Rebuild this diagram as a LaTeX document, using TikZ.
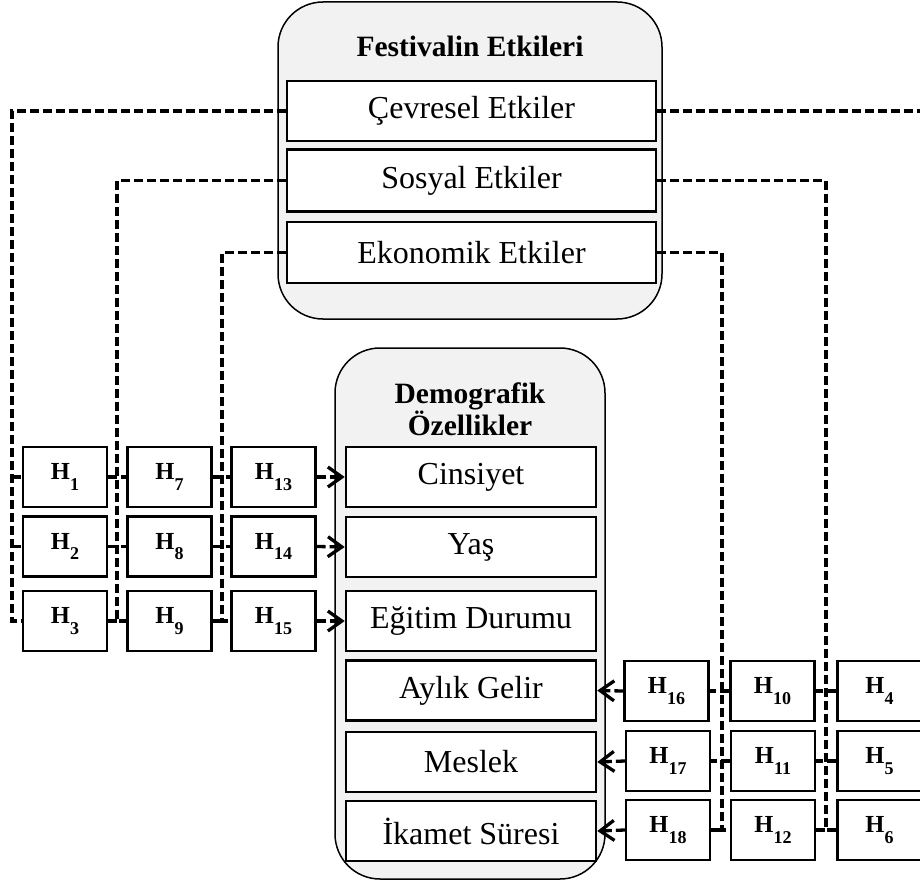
\documentclass[tikz,border=0pt]{standalone}
\usepackage{fontspec}
\setmainfont{Liberation Serif}
\usetikzlibrary{arrows.meta}
\newcommand{\hlab}[1]{{\bfseries H\raisebox{-10.5pt}{\fontsize{18}{18}\selectfont #1}}}
\begin{document}
\begin{tikzpicture}[x=1pt,y=-1pt,
  container/.style={draw=black, line width=1.5pt, fill=black!5, rounded corners=45pt, inner sep=0pt},
  ttl/.style={font=\fontsize{29.5}{30}\selectfont\bfseries, align=center, inner sep=0pt},
  inbox/.style={draw=black, line width=2.6pt, fill=white, inner sep=0pt, font=\fontsize{32}{34}\selectfont},
  topbox/.style={inbox, minimum width=369pt},
  dembox/.style={inbox, minimum width=250pt, minimum height=60pt},
  hbox/.style={draw=black, line width=2.2pt, fill=white, inner sep=0pt, minimum width=84pt, minimum height=60pt, font=\fontsize{24.5}{26}\selectfont},
  dline/.style={line width=3.3pt, dash pattern=on 9pt off 4pt},
  arr/.style={dline, -{Straight Barb[length=14pt,width=20pt,line width=3.3pt]}}
]
\useasboundingbox (0,0) rectangle (920,882);
\clip (0,0) rectangle (920,882);
\fill[white] (0,0) rectangle (920,882);

% containers
\node[container, minimum width=384pt, minimum height=317pt] (fest) at (470,160.5) {};
\node[container, minimum width=270pt, minimum height=531pt] (demo) at (470,613.5) {};
\node[ttl] (festT) at (470,46) {Festivalin Etkileri};
\node[ttl] (demoT) at (470,409) {Demografik\\Özellikler};

% top inner boxes
\node[topbox, minimum height=60pt] (cev) at (471.5,111) {Çevresel Etkiler};
\node[topbox, minimum height=62pt] (sos) at (471.5,180.5) {Sosyal Etkiler};
\node[topbox, minimum height=61pt] (eko) at (471.5,252.5) {Ekonomik Etkiler};

% demographic boxes
\node[dembox] (cin) at (471,477) {Cinsiyet};
\node[dembox] (yas) at (471,547) {Yaş};
\node[dembox] (egi) at (471,621) {Eğitim Durumu};
\node[dembox] (ayl) at (471,690.5) {Aylık Gelir};
\node[dembox] (mes) at (471,762) {Meslek};
\node[dembox] (ika) at (471,831) {İkamet Süresi};

% vertical connector coordinates
\coordinate (vL1) at (12,0);
\coordinate (vL2) at (117,0);
\coordinate (vL3) at (222,0);
\coordinate (vR1) at (934,0);
\coordinate (vR2) at (826,0);
\coordinate (vR3) at (722,0);

% left H boxes
\node[hbox] (h1) at (65,477) {\hlab{1}};
\node[hbox] (h2) at (65,546.5) {\hlab{2}};
\node[hbox] (h3) at (65,621) {\hlab{3}};
\node[hbox] (h7) at (169.5,477) {\hlab{7}};
\node[hbox] (h8) at (169.5,546.5) {\hlab{8}};
\node[hbox] (h9) at (169.5,621) {\hlab{9}};
\node[hbox] (h13) at (273.5,477) {\hlab{13}};
\node[hbox] (h14) at (273.5,546.5) {\hlab{14}};
\node[hbox] (h15) at (273.5,621) {\hlab{15}};

% right H boxes
\node[hbox] (h16) at (666.5,691) {\hlab{16}};
\node[hbox] (h17) at (668,761) {\hlab{17}};
\node[hbox] (h18) at (668,830) {\hlab{18}};
\node[hbox] (h10) at (772.5,691) {\hlab{10}};
\node[hbox] (h11) at (773,761) {\hlab{11}};
\node[hbox] (h12) at (773,830) {\hlab{12}};
\node[hbox] (h4) at (879.5,691) {\hlab{4}};
\node[hbox] (h5) at (879.5,761) {\hlab{5}};
\node[hbox] (h6) at (879.5,830) {\hlab{6}};

% left connectors
\draw[dline] (cev.west) -| (h3.west -| vL1) -- (h3.west);
\draw[dline] (sos.west) -| (h9.west -| vL2) -- (h9.west);
\draw[dline] (eko.west) -| (h15.west -| vL3) -- (h15.west);
\draw[dline] (h1.west -| vL1) -- (h1.west);
\draw[dline] (h2.west -| vL1) -- (h2.west);
\draw[dline] (h1.east) -- (h7.west);
\draw[dline] (h2.east) -- (h8.west);
\draw[dline] (h3.east) -- (h3.east -| vL2);
\draw[dline] (h7.east) -- (h13.west);
\draw[dline] (h8.east) -- (h14.west);
\draw[dline] (h9.east) -- (h9.east -| vL3);
\draw[arr] (h13.east) -- (cin.west);
\draw[arr] (h14.east) -- (yas.west);
\draw[arr] (h15.east) -- (egi.west);

% right connectors
\draw[dline] (cev.east) -| (h6.east -| vR1) -- (h6.east);
\draw[dline] (sos.east) -| (h6.west -| vR2) -- (h6.west);
\draw[dline] (eko.east) -| (h12.west -| vR3) -- (h12.west);
\draw[dline] (h4.west) -- (h10.east);
\draw[dline] (h5.west) -- (h11.east);
\draw[dline] (h12.east) -- (h12.east -| vR2);
\draw[dline] (h10.west) -- (h16.east);
\draw[dline] (h11.west) -- (h17.east);
\draw[dline] (h18.east) -- (h18.east -| vR3);
\draw[arr] (h16.west) -- (ayl.east);
\draw[arr] (h17.west) -- (mes.east);
\draw[arr] (h18.west) -- (ika.east);
\end{tikzpicture}
\end{document}
